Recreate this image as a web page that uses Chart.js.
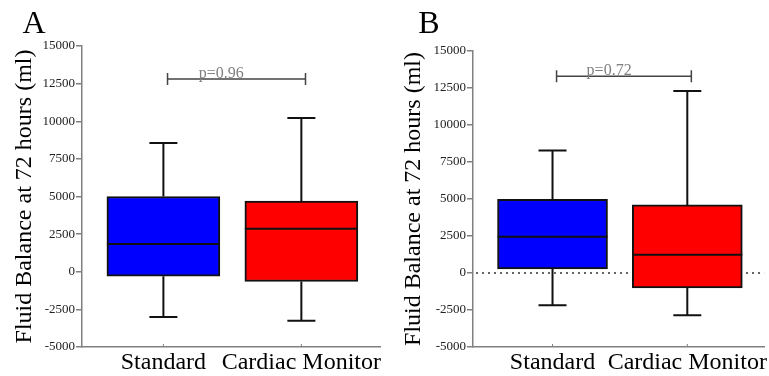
<!DOCTYPE html>
<html>
<head>
<meta charset="utf-8">
<script src="https://cdn.jsdelivr.net/npm/chart.js@4.4.0/dist/chart.umd.min.js"></script>
<style>
  body { margin: 0; background: #fff; }
  #contenedor { position: relative; width: 769px; height: 376px; }
  canvas { position: absolute; top: 0; }
</style>
</head>
<body>
<div id="contenedor">
  <canvas id="graficaA" width="385" height="376" style="left:0"></canvas>
  <canvas id="graficaB" width="384" height="376" style="left:385px"></canvas>
</div>
<script>
// Categorías y ejes
var categorias = ['Standard', 'Cardiac Monitor'];
var posiciones = [1, 2];
var ticksY = [-5000, -2500, 0, 2500, 5000, 7500, 10000, 12500, 15000];
var colores = ['#0000ff', '#ff0000'];

// Panel A (mínimo, cuartiles, mediana, máximo)
var minimoA = [-3000, -3250];
var q1A = [-300, -650];
var medianaA = [1850, 2850];
var q3A = [5000, 4700];
var maximoA = [8550, 10220];
var pValorA = 'p=0.96';
var corcheteA = 12800;

// Panel B
var minimoB = [-2180, -2860];
var q1B = [280, -1000];
var medianaB = [2450, 1240];
var q3B = [4970, 4600];
var maximoB = [8270, 12300];
var pValorB = 'p=0.72';
var corcheteB = 13300;

var fuente = '"Liberation Serif", "Times New Roman", serif';

// Dibuja bigotes, medianas, corchete y letra del panel
function pluginCajas(d, cfg) {
  return {
    id: 'cajas',
    beforeDatasetsDraw: function(chart) {
      if (!cfg.lineaCero) return;
      var ctx = chart.ctx;
      var py = chart.scales.y.getPixelForValue(0);
      ctx.save();
      ctx.strokeStyle = '#333';
      ctx.lineWidth = 1.5;
      ctx.setLineDash([2, 4]);
      ctx.beginPath();
      ctx.moveTo(chart.chartArea.left + 3, py);
      ctx.lineTo(chart.chartArea.right, py);
      ctx.stroke();
      ctx.restore();
    },
    afterDatasetsDraw: function(chart) {
      var ctx = chart.ctx;
      var x = chart.scales.x, y = chart.scales.y;
      var barras = chart.getDatasetMeta(0).data;
      ctx.save();
      ctx.strokeStyle = '#111';
      ctx.lineWidth = 2;
      for (var i = 0; i < posiciones.length; i++) {
        var px = x.getPixelForValue(posiciones[i]);
        var medio = barras[i].width / 2;
        ctx.beginPath();
        ctx.moveTo(px, y.getPixelForValue(d.q3[i]));
        ctx.lineTo(px, y.getPixelForValue(d.max[i]));
        ctx.moveTo(px, y.getPixelForValue(d.q1[i]));
        ctx.lineTo(px, y.getPixelForValue(d.min[i]));
        ctx.moveTo(px - 14, y.getPixelForValue(d.max[i]));
        ctx.lineTo(px + 14, y.getPixelForValue(d.max[i]));
        ctx.moveTo(px - 14, y.getPixelForValue(d.min[i]));
        ctx.lineTo(px + 14, y.getPixelForValue(d.min[i]));
        ctx.moveTo(barras[i].x - medio, y.getPixelForValue(d.mediana[i]));
        ctx.lineTo(barras[i].x + medio, y.getPixelForValue(d.mediana[i]));
        ctx.stroke();
        // marca pequeña sobre el eje x
        ctx.save();
        ctx.strokeStyle = '#808080';
        ctx.lineWidth = 1;
        ctx.beginPath();
        ctx.moveTo(px, chart.chartArea.bottom);
        ctx.lineTo(px, chart.chartArea.bottom - 3);
        ctx.stroke();
        ctx.restore();
      }
      // corchete del valor p
      var cy = y.getPixelForValue(d.corchete);
      var x1 = x.getPixelForValue(1.03), x2 = x.getPixelForValue(2.03);
      ctx.strokeStyle = '#444';
      ctx.lineWidth = 1.5;
      ctx.beginPath();
      ctx.moveTo(x1, cy); ctx.lineTo(x2, cy);
      ctx.moveTo(x1, cy - 6); ctx.lineTo(x1, cy + 6);
      ctx.moveTo(x2, cy - 6); ctx.lineTo(x2, cy + 6);
      ctx.stroke();
      ctx.fillStyle = '#808080';
      ctx.font = '16px ' + fuente;
      ctx.textAlign = 'center';
      ctx.textBaseline = 'alphabetic';
      ctx.fillText(d.p, x.getPixelForValue(1.42), cy - 1);
      // letra del panel
      ctx.fillStyle = '#000';
      ctx.font = '32px ' + fuente;
      ctx.fillText(cfg.letra, cfg.letraX, 33);
      ctx.restore();
    }
  };
}

function crearGrafica(id, d, cfg) {
  return new Chart(document.getElementById(id), {
    type: 'bar',
    data: {
      datasets: [{
        data: posiciones.map(function(p, i) { return { x: p, y: [d.q1[i], d.q3[i]] }; }),
        backgroundColor: colores,
        borderColor: '#111',
        borderWidth: 2,
        borderSkipped: false,
        barThickness: cfg.anchoCaja
      }]
    },
    options: {
      responsive: false,
      animation: false,
      layout: { padding: { top: cfg.arriba, right: cfg.derecha, bottom: 0, left: 0 } },
      plugins: { legend: { display: false }, tooltip: { enabled: false } },
      scales: {
        x: {
          type: 'linear',
          offset: false,
          min: 0.41,
          max: 2.57,
          afterBuildTicks: function(s) { s.ticks = posiciones.map(function(v) { return { value: v }; }); },
          afterFit: function(s) { s.height = 29; },
          grid: { display: false, drawTicks: false, offset: false },
          border: { display: true, color: '#808080', width: 1.5 },
          ticks: {
            callback: function(v) { return categorias[posiciones.indexOf(v)]; },
            font: { family: fuente, size: 24 },
            color: '#000',
            padding: 1,
            maxRotation: 0,
            autoSkip: false
          }
        },
        y: {
          min: -5000,
          max: 15000,
          afterBuildTicks: function(s) { s.ticks = ticksY.map(function(v) { return { value: v }; }); },
          afterFit: function(s) { s.width = cfg.anchoEje; },
          grid: { drawOnChartArea: false, tickLength: 6, color: '#808080', lineWidth: 1.5 },
          border: { display: true, color: '#808080', width: 1.5 },
          ticks: {
            callback: function(v) { return String(v); },
            font: { family: fuente, size: 13 },
            color: '#222',
            padding: 1
          },
          title: {
            display: true,
            text: 'Fluid Balance at 72 hours (ml)',
            font: { family: fuente, size: 24 },
            color: '#000',
            padding: { top: cfg.tituloPad, bottom: 0 }
          }
        }
      }
    },
    plugins: [pluginCajas(d, cfg)]
  });
}

crearGrafica('graficaA',
  { min: minimoA, q1: q1A, mediana: medianaA, q3: q3A, max: maximoA, p: pValorA, corchete: corcheteA },
  { letra: 'A', letraX: 34, arriba: 46, derecha: 5, anchoEje: 82, anchoCaja: 113, tituloPad: 10, lineaCero: false });

crearGrafica('graficaB',
  { min: minimoB, q1: q1B, mediana: medianaB, q3: q3B, max: maximoB, p: pValorB, corchete: corcheteB },
  { letra: 'B', letraX: 44, arriba: 51, derecha: 4, anchoEje: 88, anchoCaja: 110, tituloPad: 14, lineaCero: true });
</script>
</body>
</html>
